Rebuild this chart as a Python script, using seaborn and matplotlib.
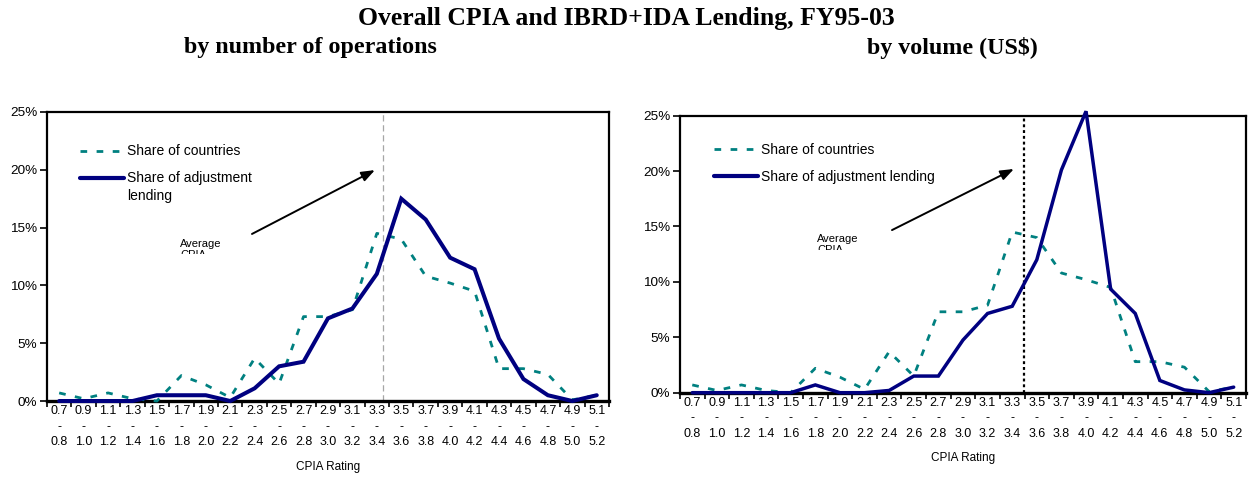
import numpy as np
import pandas as pd
import matplotlib
matplotlib.use("Agg")
import matplotlib.pyplot as plt
import seaborn as sns
from matplotlib.lines import Line2D
from matplotlib.legend_handler import HandlerLine2D
from matplotlib.patches import Rectangle

# ---------------- data ----------------
range_low = ["0.7", "0.9", "1.1", "1.3", "1.5", "1.7", "1.9", "2.1", "2.3", "2.5", "2.7", "2.9",
             "3.1", "3.3", "3.5", "3.7", "3.9", "4.1", "4.3", "4.5", "4.7", "4.9", "5.1"]
range_high = ["0.8", "1.0", "1.2", "1.4", "1.6", "1.8", "2.0", "2.2", "2.4", "2.6", "2.8", "3.0",
              "3.2", "3.4", "3.6", "3.8", "4.0", "4.2", "4.4", "4.6", "4.8", "5.0", "5.2"]
share_countries = [0.7, 0.2, 0.7, 0.2, 0.0, 2.2, 1.4, 0.3, 3.7, 1.5, 7.3, 7.3,
                   7.9, 14.5, 14.0, 10.8, 10.2, 9.5, 2.8, 2.8, 2.3, 0.1, 0.5]
share_lending_ops = [0.0, 0.0, 0.0, 0.0, 0.5, 0.5, 0.5, 0.0, 1.1, 3.0, 3.4, 7.15,
                     8.0, 11.0, 17.5, 15.7, 12.4, 11.4, 5.4, 1.9, 0.5, 0.0, 0.5]
share_lending_vol = [0.0, 0.0, 0.0, 0.0, 0.0, 0.7, 0.0, 0.0, 0.2, 1.5, 1.5, 4.75,
                     7.15, 7.8, 12.0, 20.1, 25.4, 9.35, 7.15, 1.1, 0.25, 0.0, 0.5]
avg_cpia_pos_ops = 13.27   # position of average CPIA marker (category units)
avg_cpia_pos_vol = 13.48
yticks = [0, 5, 10, 15, 20, 25]

TEAL = "#008080"
NAVY = "#000080"
DASH = (0, (2.4, 3.4))

sns.set_style("white", rc={
    "axes.edgecolor": "black", "text.color": "black", "axes.labelcolor": "black",
    "xtick.color": "black", "ytick.color": "black",
    "xtick.bottom": True, "ytick.left": True,
})
plt.rcParams["font.family"] = ["Liberation Sans", "DejaVu Sans"]

fig = plt.figure(figsize=(12.52, 4.79), dpi=100)
ax1 = fig.add_axes([0.0375, 0.1628, 0.4489, 0.6034])
ax2 = fig.add_axes([0.5431, 0.1802, 0.4521, 0.5783])

x = np.arange(len(range_low))
tick_labels = [f"{lo}\n-\n{hi}" for lo, hi in zip(range_low, range_high)]


class HandlerLineShift(HandlerLine2D):
    def __init__(self, shift=0.0, **kw):
        super().__init__(**kw)
        self.shift = shift

    def create_artists(self, legend, orig_handle, xdescent, ydescent, width, height, fontsize, trans):
        arts = super().create_artists(legend, orig_handle, xdescent, ydescent, width, height, fontsize, trans)
        for a in arts:
            if isinstance(a, Line2D):
                a.set_ydata(np.asarray(a.get_ydata(), dtype=float) + self.shift)
        return arts


def panel(ax, lending, lending_lw, avg_pos, vline_kw, legend_labels, legend_anchor, legend_shift,
          txt_pos, clip_y, arrow_from, arrow_to):
    df = pd.DataFrame({"x": x, "countries": share_countries, "lending": lending})
    sns.lineplot(data=df, x="x", y="countries", ax=ax, color=TEAL, lw=2.0,
                 linestyle=DASH, clip_on=False, zorder=3)
    sns.lineplot(data=df, x="x", y="lending", ax=ax, color=NAVY, lw=lending_lw,
                 clip_on=False, zorder=4, solid_joinstyle="miter")
    ax.axvline(avg_pos, zorder=1, **vline_kw)

    ax.set_xlim(-0.5, len(x) - 0.5)
    ax.set_ylim(0, 25)
    ax.set_yticks(yticks)
    ax.set_yticklabels([f"{v}%" for v in yticks])
    ax.set_xticks(x)
    ax.set_xticklabels(tick_labels, fontsize=9, linespacing=1.38)
    ax.set_xticks(np.arange(-0.5, len(x), 1.0), minor=True)
    ax.tick_params(axis="x", which="major", length=0, pad=3)
    ax.tick_params(axis="x", which="minor", length=4, width=1.2, direction="out", bottom=True)
    ax.tick_params(axis="y", which="major", length=5, width=1.2, direction="out", pad=2, labelsize=9.7)
    ax.set_xlabel("CPIA Rating", fontsize=8.5, labelpad=9)
    ax.set_ylabel("")
    for s in ["top", "left", "right"]:
        ax.spines[s].set_linewidth(1.6)
        ax.spines[s].set_color("black")
    ax.spines["bottom"].set_linewidth(2.4)
    ax.spines["bottom"].set_color("black")

    h_c = Line2D([], [], color=TEAL, lw=2.0, linestyle=DASH)
    h_l = Line2D([], [], color=NAVY, lw=3.0)
    leg = ax.legend([h_c, h_l], legend_labels, loc="upper left", bbox_to_anchor=legend_anchor,
                    frameon=False, borderpad=0, borderaxespad=0, handlelength=3.2,
                    handletextpad=0.2, labelspacing=0.92, fontsize=10,
                    handler_map={h_l: HandlerLineShift(shift=legend_shift)})
    for txt in leg.get_texts():
        txt.set_linespacing(1.35)

    t = ax.text(txt_pos[0], txt_pos[1], "Average\nCPIA", transform=ax.transAxes,
                fontsize=8, ha="left", va="top", linespacing=1.1)
    t.set_clip_on(True)
    t.set_clip_path(Rectangle((0, clip_y), 1, 1, transform=ax.transAxes))

    ax.annotate("", xy=arrow_to, xytext=arrow_from, xycoords="axes fraction",
                arrowprops=dict(arrowstyle="-|>,head_length=0.8,head_width=0.3",
                                color="black", lw=1.4, shrinkA=0, shrinkB=0))


panel(ax1, share_lending_ops, 2.9, avg_cpia_pos_ops,
      dict(color="#a6a6a6", lw=0.9, linestyle=(0, (5, 3))),
      ["Share of countries", "Share of adjustment\nlending"], (0.0587, 0.888), 6.8,
      (0.2367, 0.5606), 0.509, (0.3648, 0.578), (0.5836, 0.799))

panel(ax2, share_lending_vol, 2.5, avg_cpia_pos_vol,
      dict(color="black", lw=1.6, linestyle=(0, (1.3, 1.3))),
      ["Share of countries", "Share of adjustment lending"], (0.060, 0.901), 0.0,
      (0.242, 0.573), 0.516, (0.3746, 0.587), (0.590, 0.8076))

fig.text(0.5, 0.962, "Overall CPIA and IBRD+IDA Lending, FY95-03", ha="center", va="center",
         family=["Liberation Serif", "DejaVu Serif"], weight="bold", fontsize=18.5)
fig.text(0.2476, 0.8998, "by number of operations", ha="center", va="center",
         family=["Liberation Serif", "DejaVu Serif"], weight="bold", fontsize=17.3)
fig.text(0.7604, 0.8998, "by volume (US$)", ha="center", va="center",
         family=["Liberation Serif", "DejaVu Serif"], weight="bold", fontsize=17.3)

fig.savefig("out.png", dpi=100)
